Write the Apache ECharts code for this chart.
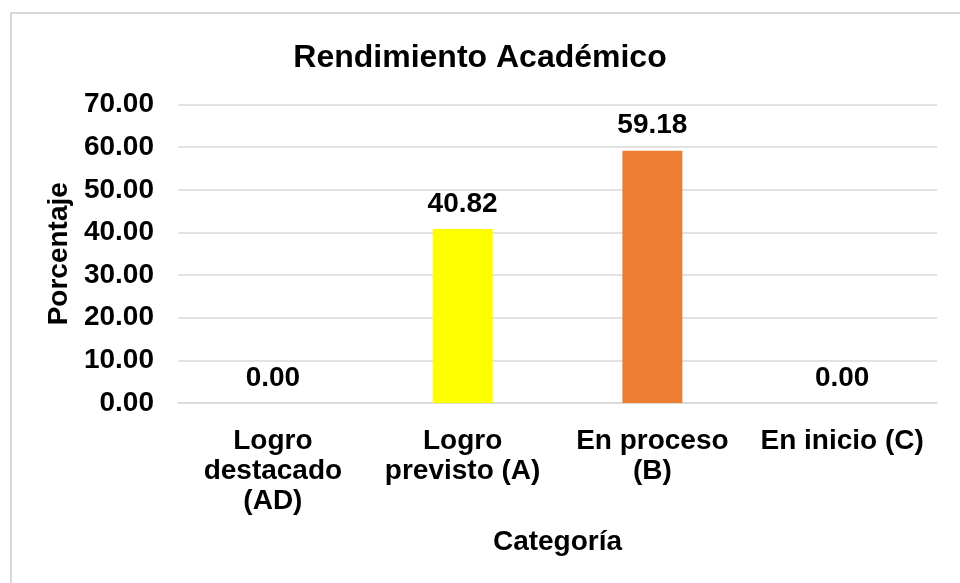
<!DOCTYPE html>
<html>
<head>
<meta charset="utf-8">
<script src="https://cdn.jsdelivr.net/npm/echarts@6/dist/echarts.min.js"></script>
<style>
  html, body { margin: 0; padding: 0; background: #fff; }
  #chart { width: 960px; height: 583px; }
</style>
</head>
<body>
<div id="chart"></div>
<script>
// datos
const categories = ["Logro\ndestacado\n(AD)", "Logro\nprevisto (A)", "En proceso\n(B)", "En inicio (C)"];
const percentages = [0.00, 40.82, 59.18, 0.00];
const barColors = ["#FFFF00", "#FFFF00", "#ED7D31", "#ED7D31"];
const yTicks = [0, 10, 20, 30, 40, 50, 60, 70];

const font = "'Liberation Sans', Arial, sans-serif";
const chart = echarts.init(document.getElementById("chart"));

chart.setOption({
  backgroundColor: "#fff",
  animation: false,
  graphic: [{
    type: "rect",
    shape: { x: 11, y: 13, width: 1000, height: 1000 },
    style: { fill: "none", stroke: "#D9D9D9", lineWidth: 2 }
  }],
  title: {
    text: "Rendimiento Académico",
    left: "center",
    top: 37,
    textStyle: { fontFamily: font, fontWeight: "bold", fontSize: 32, color: "#000" }
  },
  grid: { left: 178, right: 23, top: 104.5, bottom: 180, containLabel: false },
  xAxis: {
    type: "category",
    data: categories,
    name: "Categoría",
    nameLocation: "middle",
    nameGap: 125,
    nameTextStyle: { fontFamily: font, fontWeight: "bold", fontSize: 28, color: "#000" },
    axisLine: { lineStyle: { color: "#D9D9D9", width: 1.5 } },
    axisTick: { show: false },
    axisLabel: {
      interval: 0,
      margin: 23,
      lineHeight: 30,
      fontFamily: font, fontWeight: "bold", fontSize: 28, color: "#000"
    }
  },
  yAxis: {
    type: "value",
    min: yTicks[0],
    max: yTicks[yTicks.length - 1],
    interval: 10,
    name: "Porcentaje",
    nameLocation: "middle",
    nameGap: 100,
    nameRotate: 90,
    nameTextStyle: { fontFamily: font, fontWeight: "bold", fontSize: 28, color: "#000" },
    axisLine: { show: false },
    axisTick: { show: false },
    splitLine: { lineStyle: { color: "#D9D9D9", width: 1.5 } },
    axisLabel: {
      margin: 24,
      formatter: v => v.toFixed(2),
      fontFamily: font, fontWeight: "bold", fontSize: 28, color: "#000"
    }
  },
  series: [{
    type: "bar",
    barWidth: 60,
    data: percentages.map((v, i) => ({ value: v, itemStyle: { color: barColors[i] } })),
    label: {
      show: true,
      position: "top",
      distance: 11,
      formatter: p => p.value.toFixed(2),
      fontFamily: font, fontWeight: "bold", fontSize: 28, color: "#000"
    }
  }]
});
</script>
</body>
</html>
